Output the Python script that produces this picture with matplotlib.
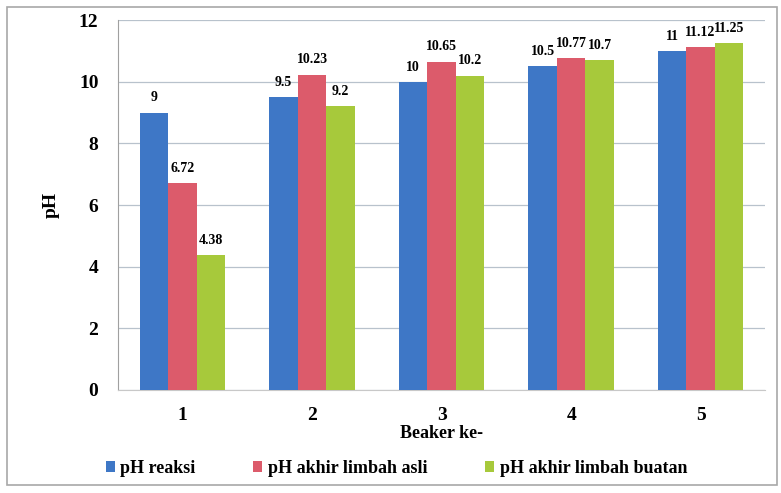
import matplotlib.pyplot as plt
from matplotlib import patches
import numpy as np

beakers = ["1", "2", "3", "4", "5"]
ph_reaksi = [9, 9.5, 10, 10.5, 11]
ph_asli = [6.72, 10.23, 10.65, 10.77, 11.12]
ph_buatan = [4.38, 9.2, 10.2, 10.7, 11.25]
series_names = ["pH reaksi", "pH akhir limbah asli", "pH akhir limbah buatan"]
colors = ["#3E77C6", "#DC5B6B", "#A7C93B"]

plt.rcParams['font.family'] = ['Liberation Serif', 'DejaVu Serif']
plt.rcParams['font.weight'] = 'bold'

fig = plt.figure(figsize=(7.81, 4.93), dpi=100)
ax = fig.add_axes([0.151, 0.209, 0.829, 0.75])

# frame around the whole chart
fig.patches.append(patches.Rectangle((0.009, 0.016), 0.986, 0.97, transform=fig.transFigure,
                                     fill=False, edgecolor="#a8a8a8", linewidth=1.2))

x = np.arange(len(beakers))
w = 0.22
for i, (vals, name) in enumerate(zip([ph_reaksi, ph_asli, ph_buatan], series_names)):
    pos = x + (i - 1) * w
    ax.bar(pos, vals, width=w, color=colors[i], label=name, zorder=3)
    for px, v in zip(pos, vals):
        ax.annotate(f"{v:g}", xy=(px, v), xytext=(0, 6), textcoords='offset points',
                    ha='center', va='bottom', fontsize=10, fontweight='bold')

ax.set_xlim(-0.5, len(beakers) - 0.5)
ax.set_ylim(0, 12)
ax.set_yticks(range(0, 13, 2))
ax.set_xticks(x)
ax.set_xticklabels(beakers)
ax.tick_params(axis='both', length=0, labelsize=14)
ax.tick_params(axis='x', pad=12)
ax.tick_params(axis='y', pad=14)
ax.grid(axis='y', color="#b8c2cc", linewidth=0.9, zorder=0)

for side in ['top', 'right']:
    ax.spines[side].set_visible(False)
ax.spines['left'].set_color("#a0a0a0")
ax.spines['bottom'].set_color("#c8c8c8")

ax.set_ylabel("pH", fontsize=14, fontweight='bold', labelpad=14)
ax.set_xlabel("Beaker ke-", fontsize=13, fontweight='bold', labelpad=1)

ax.legend(loc='upper center', bbox_to_anchor=(0.43, -0.145), ncol=3, frameon=False,
          prop={'family': 'Liberation Serif', 'weight': 'bold', 'size': 13},
          handlelength=0.5, handleheight=0.6, handletextpad=0.3, columnspacing=3.2)

plt.savefig("out.png", dpi=100)
